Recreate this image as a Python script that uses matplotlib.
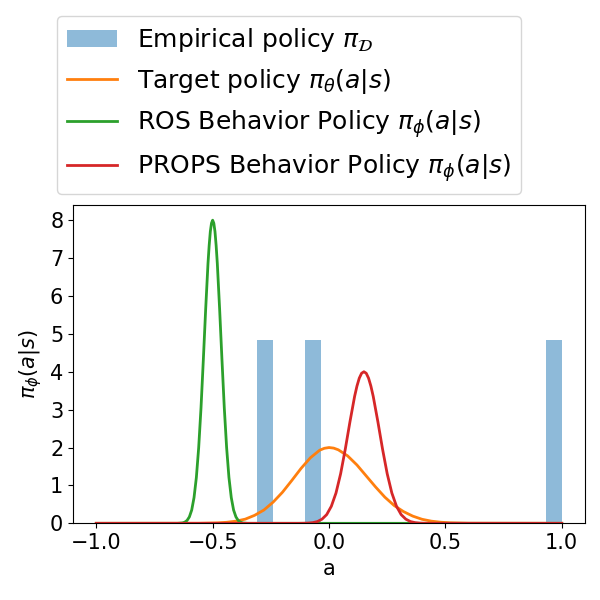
import numpy as np
import matplotlib
matplotlib.use("Agg")
import matplotlib.pyplot as plt

# empirical actions in the dataset (histogram, 19 bins, density)
empirical_actions = [-0.31, -0.07, 1.0]
n_bins = 19

# target policy (orange)
target_x = [-1.0, -0.56, -0.48, -0.44, -0.40, -0.36, -0.32, -0.28, -0.24, -0.20, -0.16, -0.12,
            -0.08, -0.04, -0.02, 0.0, 0.02, 0.04, 0.08, 0.12, 0.16, 0.20, 0.24, 0.28, 0.32, 0.36,
            0.40, 0.44, 0.48, 0.52, 0.60, 1.0]
target_y = [0.0, 0.002, 0.012, 0.027, 0.057, 0.11, 0.21, 0.35, 0.56, 0.82, 1.13, 1.45,
            1.73, 1.93, 1.98, 2.0, 1.985, 1.94, 1.78, 1.54, 1.25, 0.96, 0.69, 0.47, 0.31, 0.19,
            0.106, 0.057, 0.029, 0.014, 0.003, 0.0]

# ROS behaviour policy (green)
ros_x = [-1.0, -0.65, -0.63, -0.62, -0.61, -0.60, -0.59, -0.58, -0.57, -0.56, -0.55, -0.54,
         -0.53, -0.52, -0.515, -0.51, -0.505, -0.50, -0.495, -0.49, -0.485, -0.48, -0.47,
         -0.46, -0.45, -0.44, -0.43, -0.42, -0.41, -0.40, -0.39, -0.38, -0.37, -0.35, 1.0]
ros_y = [0.0, 0.0, 0.01, 0.03, 0.075, 0.17, 0.35, 0.68, 1.21, 2.00, 3.05, 4.32,
         5.65, 6.86, 7.33, 7.70, 7.92, 8.0, 7.92, 7.70, 7.33, 6.86, 5.65,
         4.32, 3.05, 2.00, 1.21, 0.68, 0.35, 0.17, 0.075, 0.03, 0.01, 0.0, 0.0]

# PROPS behaviour policy (red)
props_x = [-1.0, -0.13, -0.11, -0.09, -0.07, -0.05, -0.03, -0.01, 0.01, 0.03, 0.05, 0.07,
           0.09, 0.11, 0.12, 0.13, 0.14, 0.15, 0.16, 0.17, 0.18, 0.19, 0.21, 0.23, 0.25,
           0.27, 0.29, 0.31, 0.33, 0.35, 0.37, 0.39, 0.41, 0.43, 1.0]
props_y = [0.0, 0.0, 0.002, 0.006, 0.018, 0.046, 0.11, 0.23, 0.45, 0.80, 1.31, 1.96,
           2.68, 3.35, 3.62, 3.83, 3.96, 4.0, 3.96, 3.83, 3.62, 3.35, 2.68, 1.96, 1.31,
           0.80, 0.45, 0.23, 0.11, 0.046, 0.018, 0.006, 0.002, 0.0, 0.0]

fs = 15
plt.rcParams['font.size'] = fs

fig = plt.figure(figsize=(6, 6), dpi=100)
ax = fig.add_axes([0.1217, 0.1278, 0.8533, 0.5305])

ax.hist(empirical_actions, bins=n_bins, density=True, alpha=0.5, color='C0',
        label=r'Empirical policy $\pi_{\mathcal{D}}$')
ax.plot(target_x, target_y, color='C1', lw=2, label=r'Target policy $\pi_\theta(a|s)$')
ax.plot(ros_x, ros_y, color='C2', lw=2, label=r'ROS Behavior Policy $\pi_\phi(a|s)$')
ax.plot(props_x, props_y, color='C3', lw=2, label=r'PROPS Behavior Policy $\pi_\phi(a|s)$')

ax.set_xlim(-1.1, 1.1)
ax.set_ylim(0, 8.4)
ax.set_xticks([-1.0, -0.5, 0.0, 0.5, 1.0])
ax.set_yticks(range(0, 9))
ax.tick_params(labelsize=fs)
ax.set_xlabel('a', fontsize=fs)
ax.set_ylabel(r'$\pi_\phi(a|s)$', fontsize=fs)

fig.legend(loc='upper left', bbox_to_anchor=(57 / 600, 1 - 16 / 600), borderaxespad=0,
           fontsize=18, labelspacing=0.5)

fig.savefig('out.png', dpi=100)
